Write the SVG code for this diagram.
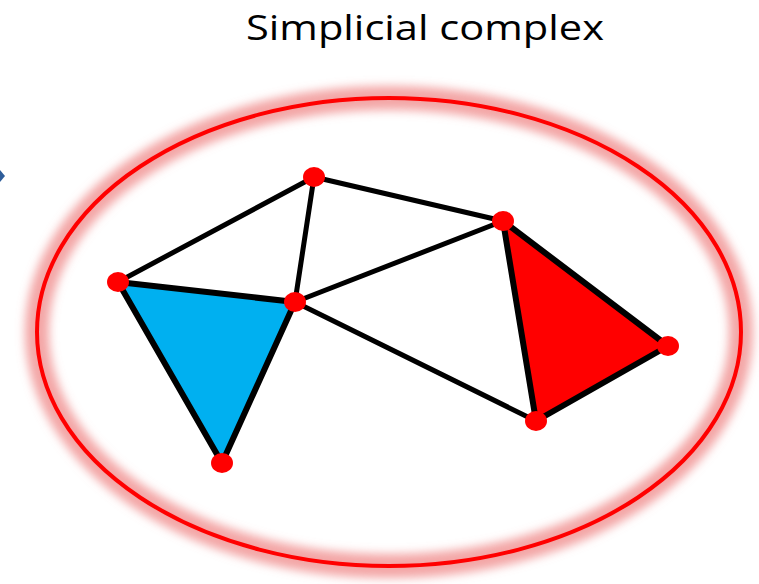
<svg xmlns="http://www.w3.org/2000/svg" width="759" height="584" viewBox="0 0 759 584">
<defs>
<style>
.edge{stroke:#000;stroke-width:5;stroke-linecap:round;fill:none}
.tri{stroke:#000;stroke-width:6;stroke-linejoin:round}
.node{fill:#FF0000}
.title{font-family:"Open Sans","Liberation Sans",sans-serif;font-size:34px;fill:#000}
</style>
<filter id="glow" x="-10%" y="-10%" width="120%" height="120%">
<feGaussianBlur stdDeviation="5"/>
</filter>
</defs>
<rect width="759" height="584" fill="#fff"/>
<text class="title" x="425" y="40" text-anchor="middle" textLength="358" lengthAdjust="spacingAndGlyphs">Simplicial complex</text>
<polygon points="0,170 5,176 0,182" fill="#2E5D9A"/>
<g id="boundary">
<ellipse cx="389" cy="332" rx="352" ry="234" fill="none" stroke="#EE8080" stroke-opacity="0.7" stroke-width="24" filter="url(#glow)"/>
<ellipse cx="389" cy="332" rx="352" ry="234" fill="none" stroke="#FF0000" stroke-width="4"/>
</g>
<g id="faces">
<polygon class="tri" points="118,282 295,302 222,463" fill="#00B0F0"/>
<polygon class="tri" points="503,221 668,346 536,421" fill="#FF0000"/>
</g>
<g id="connectors">
<line class="edge" x1="118" y1="282" x2="314" y2="177"/>
<line class="edge" x1="314" y1="177" x2="295" y2="302"/>
<line class="edge" x1="314" y1="177" x2="503" y2="221"/>
<line class="edge" x1="503" y1="221" x2="295" y2="302"/>
<line class="edge" x1="295" y1="302" x2="536" y2="421"/>
</g>
<g id="nA"><ellipse class="node" cx="314" cy="177" rx="11" ry="10"/></g>
<g id="nB"><ellipse class="node" cx="503" cy="221" rx="11" ry="10"/></g>
<g id="nC"><ellipse class="node" cx="118" cy="282" rx="11" ry="10"/></g>
<g id="nD"><ellipse class="node" cx="295" cy="302" rx="11" ry="10"/></g>
<g id="nE"><ellipse class="node" cx="668" cy="346" rx="11" ry="10"/></g>
<g id="nF"><ellipse class="node" cx="536" cy="421" rx="11" ry="10"/></g>
<g id="nG"><ellipse class="node" cx="222" cy="463" rx="11" ry="10"/></g>
</svg>
